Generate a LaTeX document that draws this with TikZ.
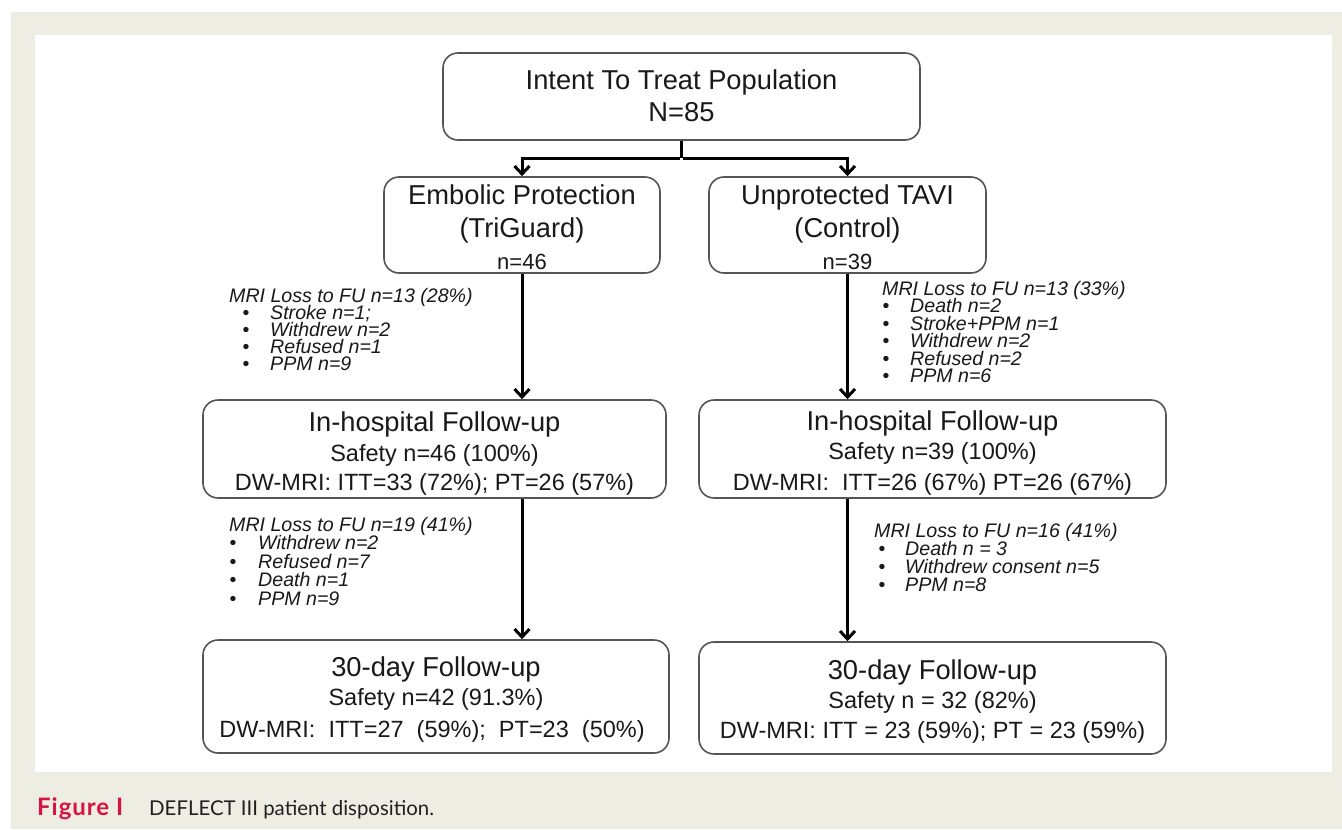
\documentclass[tikz,border=0pt]{standalone}
\usepackage{fontspec}
\setmainfont{Liberation Sans}
\newfontfamily\capfont{Lato}
\usetikzlibrary{arrows.meta,calc}
\definecolor{beige}{RGB}{238,237,227}
\definecolor{figred}{RGB}{215,20,63}
\definecolor{boxline}{RGB}{85,85,85}
\definecolor{txt}{RGB}{25,25,25}
\definecolor{captxt}{RGB}{35,31,32}
\begin{document}
\begin{tikzpicture}[x=1pt,y=-1pt,
  box/.style={draw=boxline, line width=1.6pt, rounded corners=15pt, fill=white, inner sep=0pt},
  big/.style={font=\fontsize{27.3}{27}\selectfont, text=txt, inner sep=0pt, anchor=base},
  mid/.style={font=\fontsize{23.5}{23.5}\selectfont, text=txt, inner sep=0pt, anchor=base},
  sml/.style={font=\fontsize{22}{22}\selectfont, text=txt, inner sep=0pt, anchor=base},
  note/.style={font=\fontsize{19.6}{19}\selectfont\itshape, text=txt, inner sep=0pt, anchor=base west},
  bul/.style={font=\fontsize{19.6}{19}\selectfont, text=txt, inner sep=0pt, anchor=base},
  arr/.style={line width=3pt, -{Straight Barb[length=8pt,width=15pt]}},
  conn/.style={line width=3pt}]
% background panel
\useasboundingbox (0,0) rectangle (1342,830);
\fill[white] (0,0) rectangle (1342,830);
\fill[beige] (11,12) rectangle (1342,829);
\fill[white] (35,35) rectangle (1332,772);

% boxes
\node[box, minimum width=477pt, minimum height=87pt] (itt) at (681.5,96.5) {};
\node[box, minimum width=276pt, minimum height=96pt] (emb) at (522,225) {};
\node[box, minimum width=277pt, minimum height=96pt] (unp) at (847.5,225) {};
\node[box, minimum width=463pt, minimum height=98pt] (hosL) at (434.5,449) {};
\node[box, minimum width=467pt, minimum height=98pt] (hosR) at (932.5,449) {};
\node[box, minimum width=466pt, minimum height=113pt] (dayL) at (436,696.5) {};
\node[box, minimum width=467pt, minimum height=112pt] (dayR) at (932.5,698) {};

% box texts
\node[big] (t1) at (681.5,89.7) {Intent To Treat Population};
\node[big] (t2) at (681.5,121.7) {N=85};
\node[big] (e1) at (522,204.7) {Embolic Protection};
\node[big] (e2) at (522,237.7) {(TriGuard)};
\node[sml] (e3) at (522,269) {n=46};
\node[big] (u1) at (847.5,204.7) {Unprotected TAVI};
\node[big] (u2) at (847.5,237.7) {(Control)};
\node[sml] (u3) at (847.5,269) {n=39};

\node[big] (hl1) at (434.5,431.5) {In-hospital Follow-up};
\node[mid] (hl2) at (434.5,461.5) {Safety n=46 (100\%)};
\node[mid] (hl3) at (434.5,490.5) {DW-MRI: ITT=33 (72\%); PT=26 (57\%)};
\node[big] (hr1) at (932.5,430) {In-hospital Follow-up};
\node[mid] (hr2) at (932.5,459.5) {Safety n=39 (100\%)};
\node[mid] (hr3) at (932.5,490.5) {DW-MRI:\ \ ITT=26 (67\%) PT=26 (67\%)};

\node[big] (dl1) at (436,676.7) {30-day Follow-up};
\node[mid] (dl2) at (436,705.5) {Safety n=42 (91.3\%)};
\node[mid] (dl3) at (432,737.5) {DW-MRI:\ \ ITT=27\ \ (59\%);\ \ PT=23\ \ (50\%)};
\node[big] (dr1) at (932.5,679.7) {30-day Follow-up};
\node[mid] (dr2) at (932.5,708.5) {Safety n = 32 (82\%)};
\node[mid] (dr3) at (932.5,738.5) {DW-MRI: ITT = 23 (59\%); PT = 23 (59\%)};

% connectors
\coordinate (split) at (681.5,158);
\draw[conn] (itt.south) -- (split);
\draw[arr] ([xshift=-1.5pt]split) -| (emb.north);
\draw[arr] ([xshift=1.5pt]split) -| (unp.north);
\draw[arr] (emb.south) -- (emb.south |- hosL.north);
\draw[arr] (unp.south) -- (unp.south |- hosR.north);
\draw[arr] (emb.south |- hosL.south) -- (emb.south |- dayL.north);
\draw[arr] (unp.south |- hosR.south) -- (unp.south |- dayR.north);

% annotation 1 left
\node[note] (a1) at (229,302) {MRI Loss to FU n=13 (28\%)};
\node[bul] (a1b1) at (246,319) {•};
\node[note] (a1t1) at (270,319) {Stroke n=1;};
\node[bul] (a1b2) at (246,336) {•};
\node[note] (a1t2) at (270,336) {Withdrew n=2};
\node[bul] (a1b3) at (246,353) {•};
\node[note] (a1t3) at (270,353) {Refused n=1};
\node[bul] (a1b4) at (246,370) {•};
\node[note] (a1t4) at (270,370) {PPM n=9};

% annotation 1 right
\node[note] (b1) at (882,295) {MRI Loss to FU n=13 (33\%)};
\node[bul] (b1b1) at (886,312.5) {•};
\node[note] (b1t1) at (910,312.5) {Death n=2};
\node[bul] (b1b2) at (886,330) {•};
\node[note] (b1t2) at (910,330) {Stroke+PPM n=1};
\node[bul] (b1b3) at (886,347.5) {•};
\node[note] (b1t3) at (910,347.5) {Withdrew n=2};
\node[bul] (b1b4) at (886,365) {•};
\node[note] (b1t4) at (910,365) {Refused n=2};
\node[bul] (b1b5) at (886,382.5) {•};
\node[note] (b1t5) at (910,382.5) {PPM n=6};

% annotation 2 left
\node[note] (a2) at (229,531) {MRI Loss to FU n=19 (41\%)};
\node[bul] (a2b1) at (233,549.5) {•};
\node[note] (a2t1) at (258,549.5) {Withdrew n=2};
\node[bul] (a2b2) at (233,568) {•};
\node[note] (a2t2) at (258,568) {Refused n=7};
\node[bul] (a2b3) at (233,586.5) {•};
\node[note] (a2t3) at (258,586.5) {Death n=1};
\node[bul] (a2b4) at (233,605) {•};
\node[note] (a2t4) at (258,605) {PPM n=9};

% annotation 2 right
\node[note] (b2) at (874,537) {MRI Loss to FU n=16 (41\%)};
\node[bul] (b2b1) at (882,555) {•};
\node[note] (b2t1) at (905,555) {Death n = 3};
\node[bul] (b2b2) at (882,573) {•};
\node[note] (b2t2) at (905,573) {Withdrew consent n=5};
\node[bul] (b2b3) at (882,591) {•};
\node[note] (b2t3) at (905,591) {PPM n=8};

% caption
\node[anchor=base west, inner sep=0pt, text=figred, font=\capfont\bfseries\fontsize{24}{24}\selectfont\addfontfeatures{LetterSpace=4}] (figlab) at (37,815) {Figure I};
\node[anchor=base west, inner sep=0pt, text=captxt, font=\capfont\fontsize{20.4}{21}\selectfont] (figcap) at (149,815) {DEFLECT III patient disposition.};
\end{tikzpicture}
\end{document}
